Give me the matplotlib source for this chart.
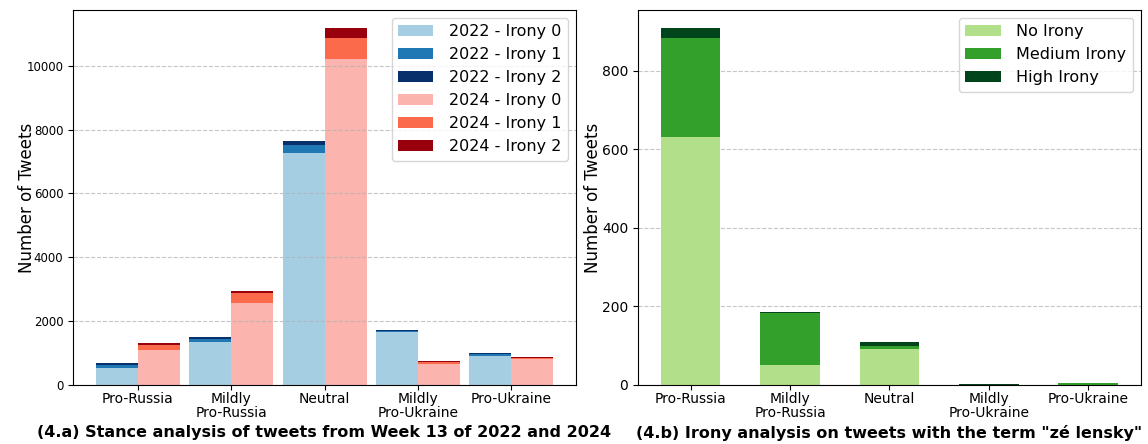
import numpy as np
import matplotlib.pyplot as plt

stances = ['Pro-Russia', 'Mildly\nPro-Russia', 'Neutral', 'Mildly\nPro-Ukraine', 'Pro-Ukraine']

# week 13 counts per irony level
irony0_2022 = [545, 1350, 7280, 1670, 920]
irony1_2022 = [85, 85, 240, 20, 55]
irony2_2022 = [65, 75, 130, 35, 30]
irony0_2024 = [1110, 2580, 10220, 670, 825]
irony1_2024 = [145, 310, 660, 60, 30]
irony2_2024 = [70, 55, 310, 30, 25]

# "zé lensky" tweets
no_irony = [630, 52, 92, 0, 0]
medium_irony = [254, 132, 7, 0, 5]
high_irony = [25, 2, 10, 3, 1]

fig, (ax1, ax2) = plt.subplots(1, 2, figsize=(11.48, 4.44), dpi=100)
x = np.arange(len(stances))
w = 0.45

b22 = ['#a6cee3', '#1f78b4', '#08306b']
r24 = ['#fbb4ae', '#fb6a4a', '#99000d']

bottom = np.zeros(len(stances))
for i, vals in enumerate([irony0_2022, irony1_2022, irony2_2022]):
    ax1.bar(x - w / 2, vals, w, bottom=bottom, color=b22[i], label=f'2022 - Irony {i}')
    bottom += vals
bottom = np.zeros(len(stances))
for i, vals in enumerate([irony0_2024, irony1_2024, irony2_2024]):
    ax1.bar(x + w / 2, vals, w, bottom=bottom, color=r24[i], label=f'2024 - Irony {i}')
    bottom += vals

ax1.set_xticks(x)
ax1.set_xticklabels(stances, fontsize=10, linespacing=1.05)
ax1.tick_params(axis='x', pad=1.5)
ax1.tick_params(axis='y', labelsize=8.5)
ax1.set_ylabel('Number of Tweets', fontsize=12)
ax1.yaxis.set_label_coords(-0.073, 0.5)
ax1.grid(axis='y', linestyle='--', alpha=0.7)
ax1.legend(fontsize=11.5, handlelength=2.2, handletextpad=1.0)
ax1.set_xlabel('(4.a) Stance analysis of tweets from Week 13 of 2022 and 2024',
               fontsize=11.5, fontweight='bold', labelpad=3)

greens = ['#b2df8a', '#33a02c', '#00441b']
bottom = np.zeros(len(stances))
for vals, col, lab in zip([no_irony, medium_irony, high_irony], greens,
                          ['No Irony', 'Medium Irony', 'High Irony']):
    ax2.bar(x, vals, 0.6, bottom=bottom, color=col, label=lab)
    bottom += vals

ax2.set_axisbelow(True)
ax2.set_xticks(x)
ax2.set_xticklabels(stances, fontsize=10, linespacing=1.05)
ax2.tick_params(axis='x', pad=1.5)
ax2.tick_params(axis='y', labelsize=10)
ax2.set_ylabel('Number of Tweets', fontsize=12)
ax2.yaxis.set_label_coords(-0.072, 0.5)
ax2.grid(axis='y', linestyle='--', alpha=0.7)
ax2.legend(fontsize=11.5, handlelength=2.2, handletextpad=1.0)
ax2.set_xlabel('(4.b) Irony analysis on tweets with the term "zé lensky"',
               fontsize=11.5, fontweight='bold', labelpad=3)

plt.subplots_adjust(left=0.0636, right=0.9939, top=0.9775, bottom=0.1329, wspace=0.123)
plt.savefig('out.png')
